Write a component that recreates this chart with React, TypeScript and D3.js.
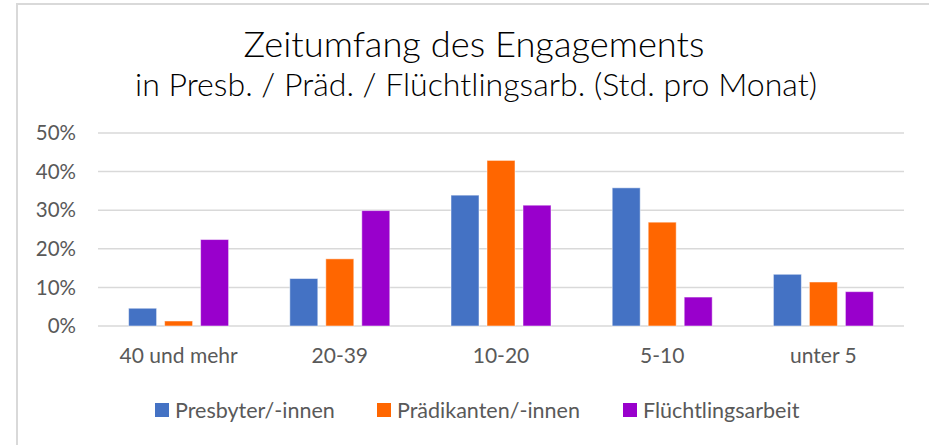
import React from "react";
import * as d3 from "d3";

const categories = ["40 und mehr", "20-39", "10-20", "5-10", "unter 5"];
const seriesNames = ["Presbyter/-innen", "Prädikanten/-innen", "Flüchtlingsarbeit"];
const presbyter = [4.6, 12.3, 33.9, 35.8, 13.4];
const praedikanten = [1.3, 17.4, 42.9, 26.9, 11.4];
const fluechtling = [22.4, 29.9, 31.3, 7.5, 8.9];
const yTicks = [0, 10, 20, 30, 40, 50];
const colors = ["#4472c4", "#ff6600", "#9900cc"];

const W = 929;
const H = 445;
const font = "Lato, 'Open Sans', sans-serif";

export default function App() {
  const values = [presbyter, praedikanten, fluechtling];

  const x0 = d3.scaleBand<string>().domain(categories).range([98, 904]);
  const groupW = 100;
  const off = (x0.bandwidth() - groupW) / 2;
  const x1 = d3
    .scaleBand<string>()
    .domain(seriesNames)
    .range([off, off + groupW])
    .paddingInner(8 / 36);
  const y = d3.scaleLinear().domain([0, 50]).range([326, 133]);

  // legend positions
  const legendX = [155, 377, 623];

  return (
    <svg width={W} height={H} style={{ position: "absolute", left: 0, top: 0 }}>
      <rect x={0} y={0} width={W} height={H} fill="#fff" />
      <rect x={17} y={4} width={W} height={H} fill="#fff" stroke="#d9d9d9" strokeWidth={2} />

      <text x={474} y={57} textAnchor="middle" fontFamily={font} fontWeight={300} fontSize={36.3} fill="#000">
        Zeitumfang des Engagements
      </text>
      <text x={476} y={96} textAnchor="middle" fontFamily={font} fontWeight={300} fontSize={32.1} fill="#000">
        in Presb. / Präd. / Flüchtlingsarb. (Std. pro Monat)
      </text>

      {yTicks.map((t) => (
        <g key={t}>
          <line x1={98} x2={904} y1={y(t)} y2={y(t)} stroke="#d9d9d9" strokeWidth={1.5} />
          <text x={76} y={y(t)} dy="0.35em" textAnchor="end" fontFamily={font} fontSize={20.5} fill="#595959">
            {t}%
          </text>
        </g>
      ))}

      {categories.map((c, i) => (
        <g key={c} transform={`translate(${x0(c)},0)`}>
          {seriesNames.map((s, j) => (
            <rect
              key={s}
              x={x1(s)}
              y={y(values[j][i])}
              width={x1.bandwidth()}
              height={y(0) - y(values[j][i])}
              fill={colors[j]}
              stroke="#ffffff"
              strokeOpacity={0.5}
              strokeWidth={1}
            />
          ))}
          <text
            x={x0.bandwidth() / 2}
            y={363}
            textAnchor="middle"
            fontFamily={font}
            fontSize={21}
            fill="#595959"
          >
            {c}
          </text>
        </g>
      ))}

      {seriesNames.map((s, j) => (
        <g key={s} transform={`translate(${legendX[j]},410)`}>
          <rect x={0} y={-7} width={14} height={14} fill={colors[j]} />
          <text x={20} y={0} dy="0.35em" fontFamily={font} fontSize={21.5} fill="#595959">
            {s}
          </text>
        </g>
      ))}
    </svg>
  );
}
